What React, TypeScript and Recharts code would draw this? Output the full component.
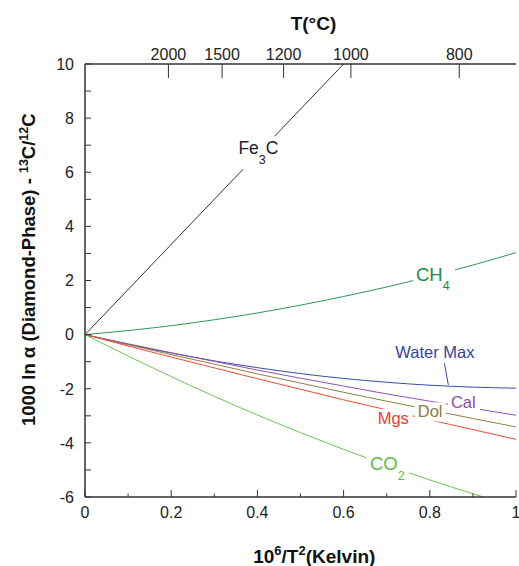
import { LineChart, Line, XAxis, YAxis, ReferenceDot, ReferenceLine } from 'recharts'

const FONT = '"Liberation Sans", Arial, sans-serif'

// x = 10^6/T^2 (Kelvin)
const X_STEPS = [0, 0.1, 0.2, 0.3, 0.4, 0.5, 0.6, 0.7, 0.8, 0.9, 1.0]
const CH4 = [0, 0.15, 0.33, 0.55, 0.8, 1.09, 1.41, 1.76, 2.15, 2.57, 3.03]
const WATER_MAX = [0, -0.36, -0.68, -0.97, -1.22, -1.44, -1.62, -1.76, -1.87, -1.94, -1.98]
const CAL = [0, -0.34, -0.67, -0.99, -1.31, -1.61, -1.9, -2.19, -2.46, -2.72, -2.98]
const DOL = [0, -0.37, -0.74, -1.09, -1.45, -1.79, -2.13, -2.46, -2.78, -3.1, -3.41]
const MGS = [0, -0.42, -0.83, -1.23, -1.63, -2.02, -2.41, -2.78, -3.15, -3.51, -3.87]
const CO2 = [0, -0.79, -1.55, -2.28, -2.97, -3.62, -4.24, -4.82, -5.37, -5.88, -6.36]

const FE3C_X = [0, 0.6]
const FE3C = [0, 10]

const Y_TICKS = [-6, -5, -4, -3, -2, -1, 0, 1, 2, 3, 4, 5, 6, 7, 8, 9, 10]
const X_TICKS = [0, 0.1, 0.2, 0.3, 0.4, 0.5, 0.6, 0.7, 0.8, 0.9, 1]
const T_CELSIUS = [2000, 1500, 1200, 1000, 800]
const T_POS = T_CELSIUS.map((t) => 1e6 / ((t + 273.15) * (t + 273.15)))

const rows = X_STEPS.map((x, i) => ({
  x,
  ch4: CH4[i],
  water: WATER_MAX[i],
  cal: CAL[i],
  dol: DOL[i],
  mgs: MGS[i],
  co2: CO2[i],
}))
const fe3cRows = FE3C_X.map((x, i) => ({ x, fe3c: FE3C[i] }))

const AXIS = '#333'

const LeftTick = (p: any) => {
  const v = p.payload.value
  const major = v % 2 === 0
  return (
    <g>
      <line x1={p.x} x2={p.x + 6} y1={p.y} y2={p.y} stroke={AXIS} strokeWidth={1} />
      {major && (
        <text x={p.x - 11} y={p.y} dy="0.36em" textAnchor="end" fontSize={16} fill="#222" fontFamily={FONT}>
          {v}
        </text>
      )}
    </g>
  )
}

const RightTick = (p: any) => (
  <line x1={p.x} x2={p.x - 5} y1={p.y} y2={p.y} stroke={AXIS} strokeWidth={1} />
)

const BottomTick = (p: any) => {
  const v = p.payload.value
  const major = Math.round(v * 10) % 2 === 0
  return (
    <g>
      <line x1={p.x} x2={p.x} y1={p.y} y2={p.y - (major ? 7 : 3.5)} stroke={AXIS} strokeWidth={1} />
      {major && (
        <text x={p.x} y={p.y + 21} textAnchor="middle" fontSize={16} fill="#222" fontFamily={FONT}>
          {Math.round(v * 10) / 10}
        </text>
      )}
    </g>
  )
}

const TopTick = (p: any) => {
  const idx = T_POS.findIndex((t) => Math.abs(t - p.payload.value) < 1e-6)
  return (
    <g>
      <line x1={p.x} x2={p.x} y1={p.y} y2={p.y + 14} stroke={AXIS} strokeWidth={1} />
      <text x={p.x} y={p.y - 4} textAnchor="middle" fontSize={16} fill="#222" fontFamily={FONT}>
        {T_CELSIUS[idx]}
      </text>
    </g>
  )
}

interface Lbl {
  x: number
  y: number
  main: string
  sub?: string
  after?: string
  color: string
  size: number
  subDy: number
  w: number
  top: number
  bottom: number
  box: boolean
}

const LABELS: Lbl[] = [
  { x: 0.356, y: 6.66, main: 'Fe', sub: '3', after: 'C', color: '#222', size: 17.5, subDy: 10, w: 44, top: 18, bottom: 15, box: true },
  { x: 0.768, y: 1.99, main: 'CH', sub: '4', color: '#1f8a4c', size: 18.5, subDy: 9, w: 36, top: 18, bottom: 12, box: true },
  { x: 0.72, y: -0.87, main: 'Water Max', color: '#34449c', size: 16.5, subDy: 0, w: 80, top: 16, bottom: 4, box: false },
  { x: 0.849, y: -2.72, main: 'Cal', color: '#8e4bab', size: 16.5, subDy: 0, w: 26, top: 15, bottom: 4, box: true },
  { x: 0.772, y: -3.06, main: 'Dol', color: '#8b7b3d', size: 16.5, subDy: 0, w: 25, top: 15, bottom: 4, box: true },
  { x: 0.679, y: -3.3, main: 'Mgs', color: '#ef3b2c', size: 16.5, subDy: 0, w: 32, top: 15, bottom: 5, box: true },
  { x: 0.661, y: -5.01, main: 'CO', sub: '2', color: '#5dba45', size: 18.5, subDy: 10, w: 36, top: 17, bottom: 12, box: true },
]

const labelShape = (l: Lbl) => (p: any) => (
  <g>
    {l.box && (
      <rect x={p.cx - 3} y={p.cy - l.top} width={l.w + 6} height={l.top + l.bottom} fill="#fff" />
    )}
    <text x={p.cx} y={p.cy} fontSize={l.size} fill={l.color} fontFamily={FONT}>
      {l.main}
      {l.sub && (
        <tspan dy={l.subDy} fontSize={12.5}>
          {l.sub}
        </tspan>
      )}
      {l.after && <tspan dy={-l.subDy}>{l.after}</tspan>}
    </text>
  </g>
)

export default function App() {
  return (
    <div style={{ width: 519, height: 566, background: '#fff', fontFamily: FONT }}>
      <style>{'body{margin:0}'}</style>
      <LineChart width={519} height={566} margin={{ top: 0, right: 3, bottom: 0, left: 0 }}>
        <XAxis
          xAxisId="b"
          dataKey="x"
          type="number"
          domain={[0, 1]}
          ticks={X_TICKS}
          interval={0}
          height={69}
          tickSize={0}
          tickMargin={0}
          tick={BottomTick}
          axisLine={{ stroke: AXIS, strokeWidth: 1.5 }}
          allowDataOverflow
          label={{
            content: (p: any) => {
              const vb = p.viewBox
              return (
                <text x={vb.x + vb.width * 0.532} y={vb.y + 66} textAnchor="middle" fontSize={19} fontWeight="bold" fill="#111" fontFamily={FONT}>
                  10
                  <tspan dy={-8} fontSize={13}>6</tspan>
                  <tspan dy={8}>/T</tspan>
                  <tspan dy={-8} fontSize={13}>2</tspan>
                  <tspan dy={8}>(Kelvin)</tspan>
                </text>
              )
            },
          }}
        />
        <XAxis
          xAxisId="t"
          dataKey="x"
          orientation="top"
          type="number"
          domain={[0, 1]}
          ticks={T_POS}
          interval={0}
          height={64}
          tickSize={0}
          tickMargin={0}
          tick={TopTick}
          axisLine={{ stroke: AXIS, strokeWidth: 1.5 }}
          allowDataOverflow
          label={{
            content: (p: any) => {
              const vb = p.viewBox
              return (
                <text x={vb.x + vb.width * 0.53} y={30} textAnchor="middle" fontSize={19} fontWeight="bold" fill="#111" fontFamily={FONT}>
                  T(°C)
                </text>
              )
            },
          }}
        />
        <YAxis
          yAxisId="l"
          type="number"
          domain={[-6, 10]}
          ticks={Y_TICKS}
          interval={0}
          width={85}
          tickSize={0}
          tickMargin={0}
          tick={LeftTick}
          axisLine={{ stroke: AXIS, strokeWidth: 1.5 }}
          allowDataOverflow
          label={{
            content: (p: any) => {
              const vb = p.viewBox
              const cy = vb.y + vb.height * 0.475
              return (
                <text transform={`translate(35,${cy}) rotate(-90)`} textAnchor="middle" fontSize={18.5} fontWeight="bold" fill="#111" fontFamily={FONT}>
                  1000 ln α (Diamond-Phase) -{' '}
                  <tspan dy={-7} fontSize={12.5}>13</tspan>
                  <tspan dy={7}>C/</tspan>
                  <tspan dy={-7} fontSize={12.5}>12</tspan>
                  <tspan dy={7}>C</tspan>
                </text>
              )
            },
          }}
        />
        <YAxis
          yAxisId="r"
          orientation="right"
          type="number"
          domain={[-6, 10]}
          ticks={Y_TICKS}
          interval={0}
          width={0}
          tickSize={0}
          tickMargin={0}
          tick={RightTick}
          axisLine={{ stroke: AXIS, strokeWidth: 1.5 }}
          allowDataOverflow
        />

        {/* invisible series so the top and right axes get their ticks */}
        <Line xAxisId="t" yAxisId="r" data={rows} dataKey="ch4" stroke="none" dot={false} activeDot={false} isAnimationActive={false} />

        <Line xAxisId="b" yAxisId="l" data={fe3cRows} dataKey="fe3c" type="linear" stroke="#333" strokeWidth={1} dot={false} isAnimationActive={false} />
        <Line xAxisId="b" yAxisId="l" data={rows} dataKey="ch4" type="monotone" stroke="#2e9556" strokeWidth={1} dot={false} isAnimationActive={false} />
        <Line xAxisId="b" yAxisId="l" data={rows} dataKey="water" type="monotone" stroke="#3a4aa6" strokeWidth={1} dot={false} isAnimationActive={false} />
        <Line xAxisId="b" yAxisId="l" data={rows} dataKey="cal" type="monotone" stroke="#9152b0" strokeWidth={1} dot={false} isAnimationActive={false} />
        <Line xAxisId="b" yAxisId="l" data={rows} dataKey="dol" type="monotone" stroke="#8f7f45" strokeWidth={1} dot={false} isAnimationActive={false} />
        <Line xAxisId="b" yAxisId="l" data={rows} dataKey="mgs" type="monotone" stroke="#f04a36" strokeWidth={1} dot={false} isAnimationActive={false} />
        <Line xAxisId="b" yAxisId="l" data={rows} dataKey="co2" type="monotone" stroke="#6cc254" strokeWidth={1} dot={false} isAnimationActive={false} />

        <ReferenceLine
          xAxisId="b"
          yAxisId="l"
          segment={[{ x: 0.834, y: -1.06 }, { x: 0.843, y: -1.86 }]}
          stroke="#3a4aa6"
          strokeWidth={1}
          ifOverflow="visible"
        />
        {LABELS.map((l, i) => (
          <ReferenceDot key={i} xAxisId="b" yAxisId="l" x={l.x} y={l.y} r={0} ifOverflow="visible" shape={labelShape(l)} />
        ))}
      </LineChart>
    </div>
  )
}
